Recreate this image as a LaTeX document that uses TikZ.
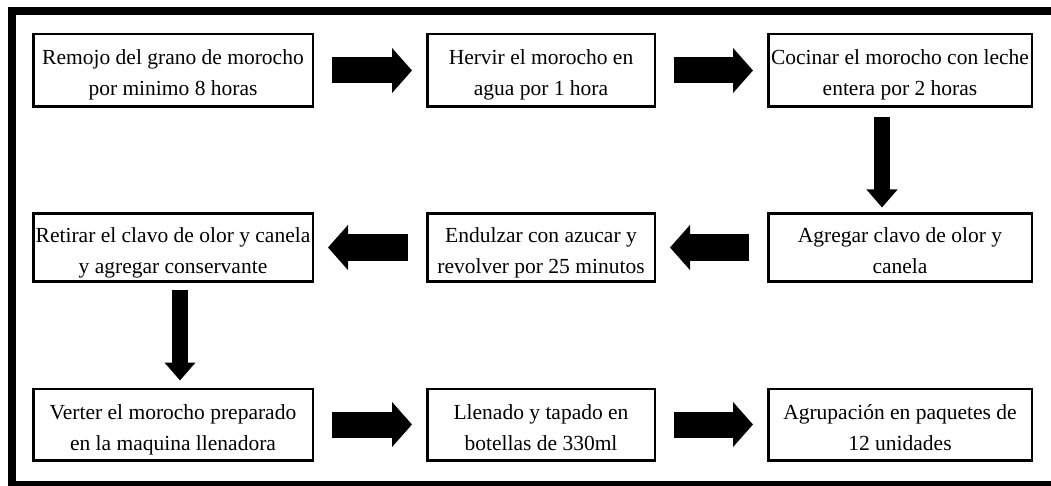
\documentclass[tikz,border=0pt]{standalone}
\usepackage{fontspec}
\setmainfont{Liberation Serif}
\usepackage{tikz}
\usetikzlibrary{arrows.meta}

\begin{document}
\begin{tikzpicture}[x=1pt, y=-1pt,
    paso/.style={draw, line width=2.5pt, align=center, inner xsep=1pt, inner ysep=0pt,
      text height=56pt, text depth=5pt, font=\fontsize{21.5}{31}\selectfont},
    flecha/.style={line width=26pt, -{Triangle[length=20pt, width=44pt]},
      shorten <=18pt, shorten >=14pt},
    bajar/.style={line width=16pt, -{Triangle[length=18pt, width=30pt]}}]
      \useasboundingbox (0, 0) rectangle (1051, 486);
      \draw[line width=8pt] (12, 11) rectangle (1060, 485);

      \node[paso, minimum width=279.5pt, minimum height=72.5pt] (1) at (173, 70.5){Remojo del grano de morocho\\por minimo 8 horas};
      \node[paso, minimum width=227.5pt, minimum height=72.5pt] (2) at (541, 70.5){Hervir el morocho en\\agua por 1 hora};
      \node[paso, minimum width=263.5pt, minimum height=72.5pt] (3) at (900, 70.5){Cocinar el morocho con leche\\entera por 2 horas};
      \node[paso, minimum width=263.5pt, minimum height=67.5pt] (4) at (900, 247.5){Agregar clavo de olor y\\canela};
      \node[paso, minimum width=227.5pt, minimum height=67.5pt] (5) at (541, 247.5){Endulzar con azucar y\\revolver por 25 minutos};
      \node[paso, minimum width=279.5pt, minimum height=67.5pt] (6) at (173, 247.5){Retirar el clavo de olor y canela\\y agregar conservante};
      \node[paso, minimum width=279.5pt, minimum height=71.5pt] (7) at (173, 424.5){Verter el morocho preparado\\en la maquina llenadora};
      \node[paso, minimum width=227.5pt, minimum height=71.5pt] (8) at (541, 424.5){Llenado y tapado en\\botellas de 330ml};
      \node[paso, minimum width=263.5pt, minimum height=71.5pt] (9) at (900, 424.5){Agrupaci\'on en paquetes de\\12 unidades};

      \draw[flecha] (1) to (2);
      \draw[flecha] (2) to (3);
      \draw[flecha] (4) to (5);
      \draw[flecha] (5) to (6);
      \draw[flecha] (7) to (8);
      \draw[flecha] (8) to (9);

      \draw[bajar, shorten <=9pt, shorten >=5pt] ([xshift=-18pt]3.south) to ([xshift=-18pt]4.north);
      \draw[bajar, shorten <=7pt, shorten >=7pt] ([xshift=7pt]6.south) to ([xshift=7pt]7.north);

    \end{tikzpicture}
\end{document}
